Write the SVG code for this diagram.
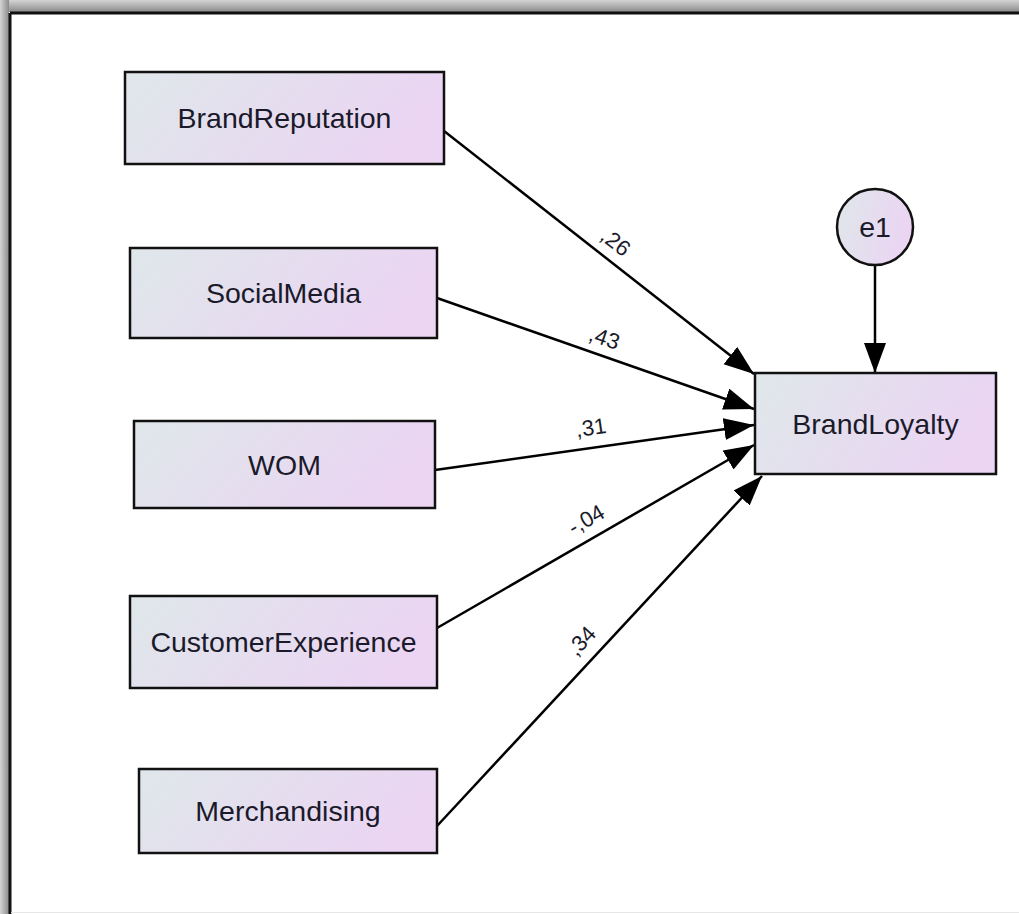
<svg xmlns="http://www.w3.org/2000/svg" width="1019" height="914" viewBox="0 0 1019 914">
  <defs>
    <linearGradient id="fill" x1="0" y1="0" x2="1" y2="0.25">
      <stop offset="0" stop-color="#dfe7ea"/>
      <stop offset="1" stop-color="#ebd5f3"/>
    </linearGradient>
    <linearGradient id="topBand" x1="0" y1="0" x2="0" y2="1">
      <stop offset="0" stop-color="#d4d4d4"/>
      <stop offset="1" stop-color="#8a8a8a"/>
    </linearGradient>
    <linearGradient id="leftBand" x1="0" y1="0" x2="1" y2="0">
      <stop offset="0" stop-color="#d4d4d4"/>
      <stop offset="1" stop-color="#8a8a8a"/>
    </linearGradient>
    <marker id="head" markerUnits="userSpaceOnUse" markerWidth="32" markerHeight="24" refX="30" refY="11" orient="auto">
      <path d="M0,0 L30,11 L0,22 Z" fill="#000"/>
    </marker>
    <style>
      .box { fill: url(#fill); stroke: #111; stroke-width: 2.5; }
      .label { font-family: "Liberation Sans", Arial, sans-serif; font-size: 28.5px; fill: #1a1a2a; text-anchor: middle; dominant-baseline: central; }
      .coef { font-family: "Liberation Sans", Arial, sans-serif; font-size: 22px; fill: #1a1a2a; text-anchor: middle; }
      .path { stroke: #000; stroke-width: 2.5; fill: none; marker-end: url(#head); }
    </style>
  </defs>

  <!-- canvas frame -->
  <rect x="0" y="0" width="1019" height="914" fill="#fff"/>
  <rect x="0" y="0" width="1019" height="12" fill="url(#topBand)"/>
  <rect x="0" y="0" width="9" height="914" fill="url(#leftBand)"/>
  <line x1="10" y1="13" x2="1019" y2="13" stroke="#111" stroke-width="3"/>
  <line x1="10" y1="13" x2="10" y2="914" stroke="#111" stroke-width="3"/>
  <line x1="11" y1="912.5" x2="1019" y2="912.5" stroke="#e6e6e6" stroke-width="1"/>

  <!-- regression paths -->
  <g id="connectors">
    <line class="path" x1="444" y1="131" x2="754" y2="374"/>
    <line class="path" x1="437" y1="298" x2="754" y2="409"/>
    <line class="path" x1="435" y1="470" x2="754" y2="425"/>
    <line class="path" x1="437" y1="628" x2="754" y2="445"/>
    <line class="path" x1="437" y1="826" x2="762" y2="476"/>
    <line class="path" x1="875" y1="265" x2="875" y2="373"/>
    <text class="coef" transform="translate(611,248) rotate(38)">,26</text>
    <text class="coef" transform="translate(602,345) rotate(19)">,43</text>
    <text class="coef" transform="translate(592,435) rotate(-8)">,31</text>
    <text class="coef" transform="translate(590,526) rotate(-30)">-,04</text>
    <text class="coef" transform="translate(587,646) rotate(-47)">,34</text>
  </g>

  <g id="BrandReputation">
    <rect class="box" x="125" y="72" width="319" height="92"/>
    <text class="label" x="284.5" y="118">BrandReputation</text>
  </g>
  <g id="SocialMedia">
    <rect class="box" x="130" y="248" width="307" height="90"/>
    <text class="label" x="283.5" y="293">SocialMedia</text>
  </g>
  <g id="WOM">
    <rect class="box" x="134" y="421" width="301" height="87"/>
    <text class="label" x="284.5" y="464.5">WOM</text>
  </g>
  <g id="CustomerExperience">
    <rect class="box" x="130" y="596" width="307" height="92"/>
    <text class="label" x="283.5" y="642">CustomerExperience</text>
  </g>
  <g id="Merchandising">
    <rect class="box" x="139" y="769" width="298" height="84"/>
    <text class="label" x="288" y="811">Merchandising</text>
  </g>
  <g id="BrandLoyalty">
    <rect class="box" x="755" y="373" width="241" height="101"/>
    <text class="label" x="875.5" y="423.5">BrandLoyalty</text>
  </g>
  <g id="e1">
    <circle class="box" cx="875" cy="227" r="38"/>
    <text class="label" x="875" y="227">e1</text>
  </g>
</svg>
